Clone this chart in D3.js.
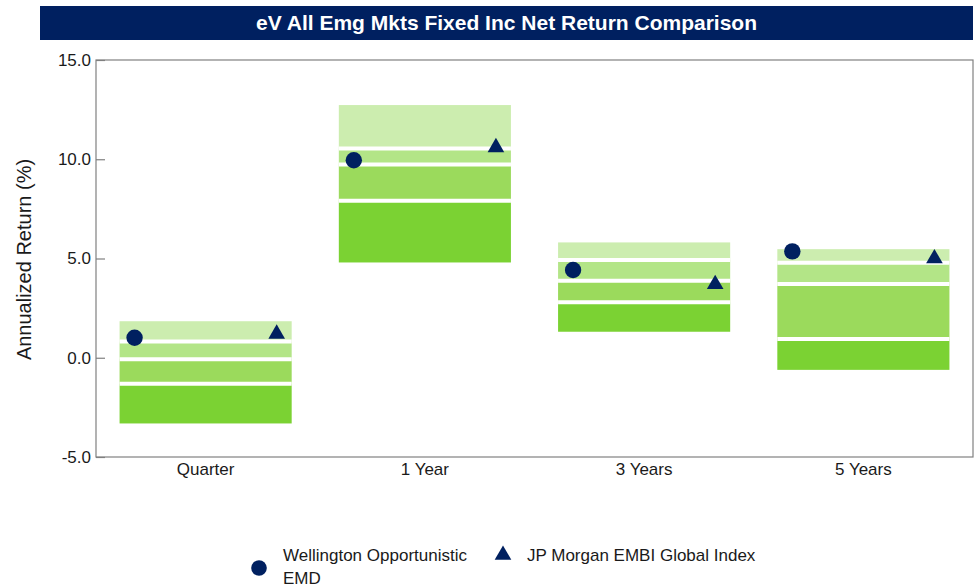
<!DOCTYPE html>
<html>
<head>
<meta charset="utf-8">
<script src="https://cdn.jsdelivr.net/npm/d3@7"></script>
<style>
  html, body { margin: 0; padding: 0; background: #fff; }
  svg { display: block; font-family: "Liberation Sans", Arial, sans-serif; }
</style>
</head>
<body>
<svg id="chart" width="977" height="588"></svg>
<script>
// Peer universe percentile ranges (5th, 25th, median, 75th, 95th)
const categories = ["Quarter", "1 Year", "3 Years", "5 Years"];
const p05 = [1.84, 12.73, 5.81, 5.47];
const p25 = [0.82, 10.54, 4.93, 4.78];
const p50 = [-0.07, 9.74, 3.88, 3.71];
const p75 = [-1.31, 7.91, 2.79, 0.95];
const p95 = [-3.31, 4.80, 1.31, -0.61];

// Portfolio and benchmark returns
const wellington = [1.01, 9.95, 4.42, 5.36];
const jpmEmbi = [1.2, 10.6, 3.7, 5.0];

const yTicks = [-5, 0, 5, 10, 15];

const seriesNames = ["Wellington Opportunistic EMD", "JP Morgan EMBI Global Index"];
const title = "eV All Emg Mkts Fixed Inc Net Return Comparison";
const yLabel = "Annualized Return (%)";

const navy = "#002060";
const bandColors = ["#CCEDAF", "#B3E587", "#9BDA5C", "#7BD233"];

const svg = d3.select("#chart");
const W = 977;
const plot = { left: 96, right: 973, top: 60, bottom: 457 };

// Title banner
svg.append("rect")
  .attr("x", 40).attr("y", 6).attr("width", W - 40 - 4).attr("height", 34)
  .attr("fill", navy);
svg.append("text")
  .attr("x", (40 + W - 4) / 2).attr("y", 30)
  .attr("text-anchor", "middle")
  .attr("fill", "#fff").attr("font-weight", "bold").attr("font-size", 21)
  .text(title);

const x = d3.scaleBand()
  .domain(categories)
  .range([plot.left, plot.right])
  .paddingInner(0.215)
  .paddingOuter(0.1075);

const y = d3.scaleLinear()
  .domain([-5, 15])
  .range([plot.bottom, plot.top]);

// Floating percentile boxes
const g = svg.append("g");
categories.forEach((c, i) => {
  const edges = [p05[i], p25[i], p50[i], p75[i], p95[i]];
  for (let k = 0; k < 4; k++) {
    g.append("rect")
      .attr("x", x(c))
      .attr("width", x.bandwidth())
      .attr("y", y(edges[k]))
      .attr("height", y(edges[k + 1]) - y(edges[k]))
      .attr("fill", bandColors[k]);
  }
  // white separators at the quartile boundaries
  [p25[i], p50[i], p75[i]].forEach(v => {
    g.append("line")
      .attr("x1", x(c)).attr("x2", x(c) + x.bandwidth())
      .attr("y1", y(v)).attr("y2", y(v))
      .attr("stroke", "#fff").attr("stroke-width", 4);
  });
});

// Frame
svg.append("rect")
  .attr("x", plot.left).attr("y", plot.top)
  .attr("width", plot.right - plot.left).attr("height", plot.bottom - plot.top)
  .attr("fill", "none").attr("stroke", "#808080").attr("stroke-width", 1.2);

// Y axis
const yAxis = svg.append("g")
  .attr("transform", `translate(${plot.left},0)`)
  .call(d3.axisLeft(y).tickValues(yTicks).tickFormat(d => d.toFixed(1))
    .tickSizeInner(-9).tickSizeOuter(0).tickPadding(5));
yAxis.select(".domain").remove();
yAxis.selectAll(".tick line").attr("stroke", "#808080").attr("stroke-width", 1.2);
yAxis.selectAll(".tick text").attr("font-size", 17).attr("fill", "#1a1a1a")
  .attr("font-family", "'Liberation Sans', Arial, sans-serif");

// X axis labels
const xAxis = svg.append("g")
  .attr("transform", `translate(0,${plot.bottom})`)
  .call(d3.axisBottom(x).tickSize(0).tickPadding(6));
xAxis.select(".domain").remove();
xAxis.selectAll(".tick text").attr("font-size", 17).attr("fill", "#1a1a1a")
  .attr("font-family", "'Liberation Sans', Arial, sans-serif");

// Y axis title
svg.append("text")
  .attr("transform", `translate(31,${(plot.top + plot.bottom) / 2 + 1}) rotate(-90)`)
  .attr("text-anchor", "middle")
  .attr("font-size", 20).attr("fill", "#1a1a1a")
  .text(yLabel);

// Markers
const tri = d3.symbol().type(d3.symbolTriangle).size(120);
categories.forEach((c, i) => {
  svg.append("circle")
    .attr("cx", x(c) + 15).attr("cy", y(wellington[i])).attr("r", 8.2)
    .attr("fill", navy);
  svg.append("path")
    .attr("d", tri())
    .attr("transform", `translate(${x(c) + x.bandwidth() - 15},${y(jpmEmbi[i])})`)
    .attr("fill", navy);
});

// Legend
const lg = svg.append("g");
lg.append("circle").attr("cx", 259).attr("cy", 568).attr("r", 7.8).attr("fill", navy);
const t1 = lg.append("text").attr("x", 283).attr("y", 561).attr("font-size", 17).attr("fill", "#1a1a1a");
t1.append("tspan").attr("x", 283).text("Wellington Opportunistic");
t1.append("tspan").attr("x", 283).attr("dy", 23).text("EMD");
lg.append("path").attr("d", tri()).attr("transform", "translate(503,555)").attr("fill", navy);
lg.append("text").attr("x", 527).attr("y", 561).attr("font-size", 17).attr("fill", "#1a1a1a")
  .text(seriesNames[1]);
</script>
</body>
</html>
